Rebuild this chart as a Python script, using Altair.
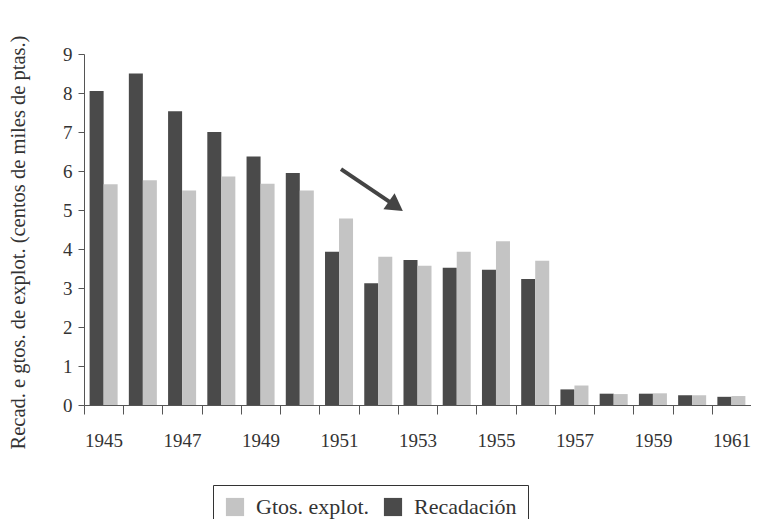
import altair as alt
import pandas as pd

years = list(range(1945, 1962))
recadacion = [8.05, 8.5, 7.53, 7.0, 6.37, 5.95, 3.93, 3.12, 3.72, 3.52, 3.47, 3.23, 0.40, 0.29, 0.29, 0.25, 0.21]
gtos = [5.66, 5.76, 5.5, 5.86, 5.67, 5.5, 4.78, 3.8, 3.57, 3.93, 4.2, 3.7, 0.50, 0.28, 0.30, 0.25, 0.23]
series = ["Gtos. explot.", "Recadación"]
colors = ["#c4c4c4", "#4a4a4a"]

# arrow annotation in data units (year, value)
arrow_x = [1951.05, 1952.45]
arrow_y = [6.05, 5.1]

rows = []
for i, yr in enumerate(years):
    rows.append({"year": yr, "serie": "Recadación", "value": recadacion[i]})
    rows.append({"year": yr, "serie": "Gtos. explot.", "value": gtos[i]})
df = pd.DataFrame(rows)

FONT = "Liberation Serif"

y_axis = alt.Axis(values=list(range(0, 10)), tickSize=6, labelPadding=6,
                  labelFont=FONT, labelFontSize=19, labelColor="#333",
                  domainColor="#555", tickColor="#555", grid=False,
                  title="Recad. e gtos. de explot. (centos de miles de ptas.)",
                  titleFont=FONT, titleFontSize=20.5, titleFontWeight="normal",
                  titleColor="#333", titleX=-56, titleY=188, titleAngle=-90,
                  titleAlign="center", titleBaseline="bottom")
y_scale = alt.Scale(domain=[0, 9], nice=False)

bars = alt.Chart(df).mark_bar().encode(
    x=alt.X("year:O", title=None,
            scale=alt.Scale(paddingInner=0, paddingOuter=0),
            axis=alt.Axis(labelExpr="datum.value % 2 == 1 ? datum.label : ''",
                          labelAngle=0, tickBand="extent", tickSize=9,
                          labelPadding=17, labelFont=FONT, labelFontSize=19,
                          labelColor="#333", domainColor="#555", tickColor="#555",
                          grid=False)),
    xOffset=alt.XOffset("serie:N", sort=["Recadación", "Gtos. explot."],
                        scale=alt.Scale(paddingOuter=0.4, paddingInner=0)),
    y=alt.Y("value:Q", scale=y_scale, axis=y_axis),
    color=alt.Color("serie:N", scale=alt.Scale(domain=series, range=colors),
                    legend=alt.Legend(title=None, orient="none", legendX=129, legendY=431,
                                      direction="horizontal", strokeColor="#333",
                                      padding=11, symbolType="square", symbolSize=330,
                                      symbolStrokeWidth=0, labelFont=FONT,
                                      labelFontSize=22, labelColor="#333",
                                      columnPadding=12, labelOffset=10)),
)

arrow_df = pd.DataFrame({"x": [arrow_x[0]], "y": [arrow_y[0]], "x2": [arrow_x[1]], "y2": [arrow_y[1]]})
xs = alt.Scale(domain=[1944.5, 1961.5], nice=False, zero=False)
arrow_line = alt.Chart(arrow_df).mark_rule(color="#444", strokeWidth=4).encode(
    x=alt.X("x:Q", scale=xs, axis=None),
    y=alt.Y("y:Q", scale=y_scale, axis=y_axis),
    x2="x2:Q",
    y2="y2:Q",
)
head_df = pd.DataFrame({"x": [arrow_x[1]], "y": [arrow_y[1]]})
arrow_head = alt.Chart(head_df).mark_point(shape="triangle-right", filled=True, color="#444",
                                           size=380, angle=35, opacity=1).encode(
    x=alt.X("x:Q", scale=xs, axis=None),
    y=alt.Y("y:Q", scale=y_scale, axis=y_axis),
)

chart = alt.layer(bars, arrow_line, arrow_head).resolve_scale(x="independent").properties(
    width=667, height=351,
    autosize=alt.AutoSizeParams(type="none"),
    padding={"left": 76, "top": 46, "right": 0, "bottom": 114},
).configure_view(stroke=None)

chart.save("out.html", embed_options={"renderer": "svg", "actions": False})
